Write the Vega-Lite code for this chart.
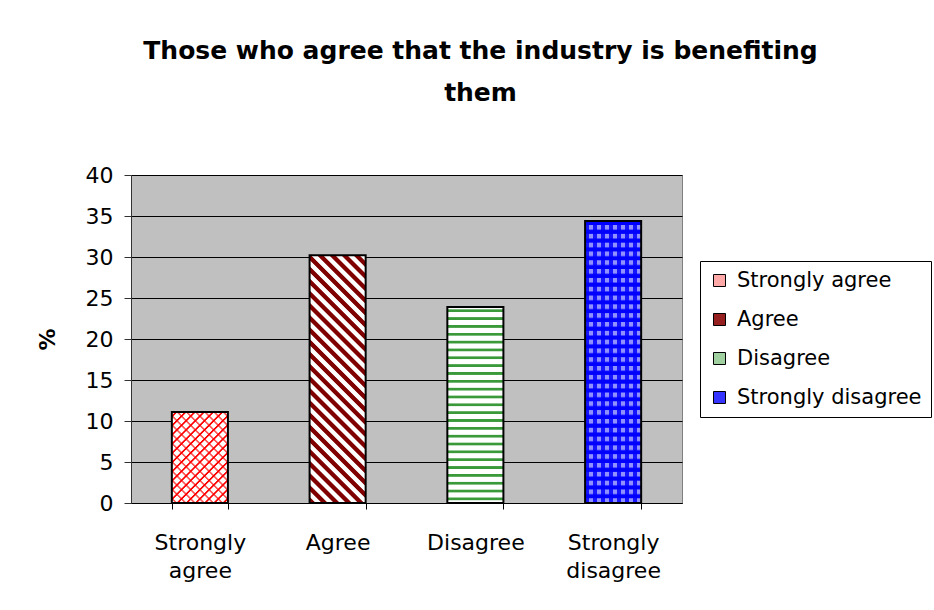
{
  "$schema": "https://vega.github.io/schema/vega-lite/v6.json",
  "width": 551,
  "height": 328,
  "autosize": "none",
  "padding": {"left": 131, "top": 175, "right": 252, "bottom": 107},
  "background": "white",
  "title": {
    "text": ["Those who agree that the industry is benefiting", "them"],
    "font": "DejaVu Sans",
    "fontSize": 25,
    "fontWeight": "bold",
    "color": "black",
    "lineHeight": 42,
    "anchor": "middle",
    "frame": "group",
    "dx": 74,
    "offset": 58
  },
  "data": {
    "values": [
      {"response": "Strongly agree", "pct": 11.1},
      {"response": "Agree", "pct": 30.2},
      {"response": "Disagree", "pct": 23.9},
      {"response": "Strongly disagree", "pct": 34.4}
    ]
  },
  "encoding": {
    "x": {
      "field": "response",
      "type": "nominal",
      "sort": null,
      "scale": {"paddingInner": 0.593, "paddingOuter": 0.2965},
      "axis": {
        "title": null,
        "labelAngle": 0,
        "labelFont": "DejaVu Sans",
        "labelFontSize": 22,
        "labelColor": "black",
        "labelPadding": 23,
        "labelLineHeight": 28,
        "labelLimit": 300,
        "labelExpr": "split(datum.label, ' ')",
        "tickBand": "extent",
        "tickSize": 6,
        "tickColor": "black",
        "domainColor": "black",
        "grid": false
      }
    },
    "y": {
      "field": "pct",
      "type": "quantitative",
      "stack": null,
      "scale": {"domain": [0, 40]},
      "axis": {
        "values": [0, 5, 10, 15, 20, 25, 30, 35, 40],
        "title": "%",
        "titleFont": "DejaVu Sans",
        "titleFontSize": 22,
        "titleFontWeight": "bold",
        "titleColor": "black",
        "titlePadding": 26,
        "labelFont": "DejaVu Sans",
        "labelFontSize": 22,
        "labelColor": "black",
        "labelPadding": 11,
        "labelOverlap": false,
        "tickSize": 7,
        "tickColor": "#333333",
        "domainColor": "#333333",
        "grid": true,
        "gridColor": "#000000",
        "gridOpacity": 1,
        "gridWidth": 1
      }
    }
  },
  "layer": [
    {
      "mark": {"type": "bar"},
      "encoding": {
        "fill": {
          "field": "response",
          "type": "nominal",
          "sort": null,
          "scale": {
            "domain": ["Strongly agree", "Agree", "Disagree", "Strongly disagree"],
            "range": ["#ffa8a8", "#962020", "#a0d0a0", "#3535ff"]
          },
          "legend": {
            "title": null,
            "orient": "none",
            "legendX": 569,
            "legendY": 86
          }
        }
      }
    },
    {
      "mark": {"type": "bar"},
      "encoding": {
        "fill": {
          "condition": [
            {"test": "datum.response === 'Strongly agree'", "value": {"gradient": "linear", "x1": 0, "y1": 0, "x2": 0.7218, "y2": 1.1715, "stops": [
              {"offset": 0.02, "color": "#ffffff"}, {"offset": 0.027, "color": "#ff0000"}, {"offset": 0.036, "color": "#ff0000"}, {"offset": 0.043, "color": "#ffffff"},
              {"offset": 0.0825, "color": "#ffffff"}, {"offset": 0.0895, "color": "#ff0000"}, {"offset": 0.0985, "color": "#ff0000"}, {"offset": 0.1055, "color": "#ffffff"},
              {"offset": 0.145, "color": "#ffffff"}, {"offset": 0.152, "color": "#ff0000"}, {"offset": 0.161, "color": "#ff0000"}, {"offset": 0.168, "color": "#ffffff"},
              {"offset": 0.2075, "color": "#ffffff"}, {"offset": 0.2145, "color": "#ff0000"}, {"offset": 0.2235, "color": "#ff0000"}, {"offset": 0.2305, "color": "#ffffff"},
              {"offset": 0.27, "color": "#ffffff"}, {"offset": 0.277, "color": "#ff0000"}, {"offset": 0.286, "color": "#ff0000"}, {"offset": 0.293, "color": "#ffffff"},
              {"offset": 0.3325, "color": "#ffffff"}, {"offset": 0.3395, "color": "#ff0000"}, {"offset": 0.3485, "color": "#ff0000"}, {"offset": 0.3555, "color": "#ffffff"},
              {"offset": 0.395, "color": "#ffffff"}, {"offset": 0.402, "color": "#ff0000"}, {"offset": 0.411, "color": "#ff0000"}, {"offset": 0.418, "color": "#ffffff"},
              {"offset": 0.4575, "color": "#ffffff"}, {"offset": 0.4645, "color": "#ff0000"}, {"offset": 0.4735, "color": "#ff0000"}, {"offset": 0.4805, "color": "#ffffff"},
              {"offset": 0.52, "color": "#ffffff"}, {"offset": 0.527, "color": "#ff0000"}, {"offset": 0.536, "color": "#ff0000"}, {"offset": 0.543, "color": "#ffffff"},
              {"offset": 0.5825, "color": "#ffffff"}, {"offset": 0.5895, "color": "#ff0000"}, {"offset": 0.5985, "color": "#ff0000"}, {"offset": 0.6055, "color": "#ffffff"},
              {"offset": 0.645, "color": "#ffffff"}, {"offset": 0.652, "color": "#ff0000"}, {"offset": 0.661, "color": "#ff0000"}, {"offset": 0.668, "color": "#ffffff"},
              {"offset": 0.7075, "color": "#ffffff"}, {"offset": 0.7145, "color": "#ff0000"}, {"offset": 0.7235, "color": "#ff0000"}, {"offset": 0.7305, "color": "#ffffff"},
              {"offset": 0.77, "color": "#ffffff"}, {"offset": 0.777, "color": "#ff0000"}, {"offset": 0.786, "color": "#ff0000"}, {"offset": 0.793, "color": "#ffffff"},
              {"offset": 0.8325, "color": "#ffffff"}, {"offset": 0.8395, "color": "#ff0000"}, {"offset": 0.8485, "color": "#ff0000"}, {"offset": 0.8555, "color": "#ffffff"},
              {"offset": 0.895, "color": "#ffffff"}, {"offset": 0.902, "color": "#ff0000"}, {"offset": 0.911, "color": "#ff0000"}, {"offset": 0.918, "color": "#ffffff"},
              {"offset": 0.9575, "color": "#ffffff"}, {"offset": 0.9645, "color": "#ff0000"}, {"offset": 0.9735, "color": "#ff0000"}, {"offset": 0.9805, "color": "#ffffff"}
            ]}},
            {"test": "datum.response === 'Agree'", "value": {"gradient": "linear", "x1": 0, "y1": 1, "x2": 0.2641, "y2": -0.1666, "stops": [
              {"offset": 0.002, "color": "#800000"}, {"offset": 0.018, "color": "#800000"}, {"offset": 0.022, "color": "#ffffff"}, {"offset": 0.038, "color": "#ffffff"},
              {"offset": 0.042, "color": "#800000"}, {"offset": 0.058, "color": "#800000"}, {"offset": 0.062, "color": "#ffffff"}, {"offset": 0.078, "color": "#ffffff"},
              {"offset": 0.082, "color": "#800000"}, {"offset": 0.098, "color": "#800000"}, {"offset": 0.102, "color": "#ffffff"}, {"offset": 0.118, "color": "#ffffff"},
              {"offset": 0.122, "color": "#800000"}, {"offset": 0.138, "color": "#800000"}, {"offset": 0.142, "color": "#ffffff"}, {"offset": 0.158, "color": "#ffffff"},
              {"offset": 0.162, "color": "#800000"}, {"offset": 0.178, "color": "#800000"}, {"offset": 0.182, "color": "#ffffff"}, {"offset": 0.198, "color": "#ffffff"},
              {"offset": 0.202, "color": "#800000"}, {"offset": 0.218, "color": "#800000"}, {"offset": 0.222, "color": "#ffffff"}, {"offset": 0.238, "color": "#ffffff"},
              {"offset": 0.242, "color": "#800000"}, {"offset": 0.258, "color": "#800000"}, {"offset": 0.262, "color": "#ffffff"}, {"offset": 0.278, "color": "#ffffff"},
              {"offset": 0.282, "color": "#800000"}, {"offset": 0.298, "color": "#800000"}, {"offset": 0.302, "color": "#ffffff"}, {"offset": 0.318, "color": "#ffffff"},
              {"offset": 0.322, "color": "#800000"}, {"offset": 0.338, "color": "#800000"}, {"offset": 0.342, "color": "#ffffff"}, {"offset": 0.358, "color": "#ffffff"},
              {"offset": 0.362, "color": "#800000"}, {"offset": 0.378, "color": "#800000"}, {"offset": 0.382, "color": "#ffffff"}, {"offset": 0.398, "color": "#ffffff"},
              {"offset": 0.402, "color": "#800000"}, {"offset": 0.418, "color": "#800000"}, {"offset": 0.422, "color": "#ffffff"}, {"offset": 0.438, "color": "#ffffff"},
              {"offset": 0.442, "color": "#800000"}, {"offset": 0.458, "color": "#800000"}, {"offset": 0.462, "color": "#ffffff"}, {"offset": 0.478, "color": "#ffffff"},
              {"offset": 0.482, "color": "#800000"}, {"offset": 0.498, "color": "#800000"}, {"offset": 0.502, "color": "#ffffff"}, {"offset": 0.518, "color": "#ffffff"},
              {"offset": 0.522, "color": "#800000"}, {"offset": 0.538, "color": "#800000"}, {"offset": 0.542, "color": "#ffffff"}, {"offset": 0.558, "color": "#ffffff"},
              {"offset": 0.562, "color": "#800000"}, {"offset": 0.578, "color": "#800000"}, {"offset": 0.582, "color": "#ffffff"}, {"offset": 0.598, "color": "#ffffff"},
              {"offset": 0.602, "color": "#800000"}, {"offset": 0.618, "color": "#800000"}, {"offset": 0.622, "color": "#ffffff"}, {"offset": 0.638, "color": "#ffffff"},
              {"offset": 0.642, "color": "#800000"}, {"offset": 0.658, "color": "#800000"}, {"offset": 0.662, "color": "#ffffff"}, {"offset": 0.678, "color": "#ffffff"},
              {"offset": 0.682, "color": "#800000"}, {"offset": 0.698, "color": "#800000"}, {"offset": 0.702, "color": "#ffffff"}, {"offset": 0.718, "color": "#ffffff"},
              {"offset": 0.722, "color": "#800000"}, {"offset": 0.738, "color": "#800000"}, {"offset": 0.742, "color": "#ffffff"}, {"offset": 0.758, "color": "#ffffff"},
              {"offset": 0.762, "color": "#800000"}, {"offset": 0.778, "color": "#800000"}, {"offset": 0.782, "color": "#ffffff"}, {"offset": 0.798, "color": "#ffffff"},
              {"offset": 0.802, "color": "#800000"}, {"offset": 0.818, "color": "#800000"}, {"offset": 0.822, "color": "#ffffff"}, {"offset": 0.838, "color": "#ffffff"},
              {"offset": 0.842, "color": "#800000"}, {"offset": 0.858, "color": "#800000"}, {"offset": 0.862, "color": "#ffffff"}, {"offset": 0.878, "color": "#ffffff"},
              {"offset": 0.882, "color": "#800000"}, {"offset": 0.898, "color": "#800000"}, {"offset": 0.902, "color": "#ffffff"}, {"offset": 0.918, "color": "#ffffff"},
              {"offset": 0.922, "color": "#800000"}, {"offset": 0.938, "color": "#800000"}, {"offset": 0.942, "color": "#ffffff"}, {"offset": 0.958, "color": "#ffffff"},
              {"offset": 0.962, "color": "#800000"}, {"offset": 0.978, "color": "#800000"}, {"offset": 0.982, "color": "#ffffff"}, {"offset": 0.998, "color": "#ffffff"}
            ]}},
            {"test": "datum.response === 'Disagree'", "value": {"gradient": "linear", "x1": 0, "y1": 0, "x2": 0, "y2": 1, "stops": [
              {"offset": 0.01, "color": "#ffffff"}, {"offset": 0.014, "color": "#3a9a3a"}, {"offset": 0.024, "color": "#3a9a3a"}, {"offset": 0.028, "color": "#ffffff"},
              {"offset": 0.05, "color": "#ffffff"}, {"offset": 0.054, "color": "#3a9a3a"}, {"offset": 0.064, "color": "#3a9a3a"}, {"offset": 0.068, "color": "#ffffff"},
              {"offset": 0.09, "color": "#ffffff"}, {"offset": 0.094, "color": "#3a9a3a"}, {"offset": 0.104, "color": "#3a9a3a"}, {"offset": 0.108, "color": "#ffffff"},
              {"offset": 0.13, "color": "#ffffff"}, {"offset": 0.134, "color": "#3a9a3a"}, {"offset": 0.144, "color": "#3a9a3a"}, {"offset": 0.148, "color": "#ffffff"},
              {"offset": 0.17, "color": "#ffffff"}, {"offset": 0.174, "color": "#3a9a3a"}, {"offset": 0.184, "color": "#3a9a3a"}, {"offset": 0.188, "color": "#ffffff"},
              {"offset": 0.21, "color": "#ffffff"}, {"offset": 0.214, "color": "#3a9a3a"}, {"offset": 0.224, "color": "#3a9a3a"}, {"offset": 0.228, "color": "#ffffff"},
              {"offset": 0.25, "color": "#ffffff"}, {"offset": 0.254, "color": "#3a9a3a"}, {"offset": 0.264, "color": "#3a9a3a"}, {"offset": 0.268, "color": "#ffffff"},
              {"offset": 0.29, "color": "#ffffff"}, {"offset": 0.294, "color": "#3a9a3a"}, {"offset": 0.304, "color": "#3a9a3a"}, {"offset": 0.308, "color": "#ffffff"},
              {"offset": 0.33, "color": "#ffffff"}, {"offset": 0.334, "color": "#3a9a3a"}, {"offset": 0.344, "color": "#3a9a3a"}, {"offset": 0.348, "color": "#ffffff"},
              {"offset": 0.37, "color": "#ffffff"}, {"offset": 0.374, "color": "#3a9a3a"}, {"offset": 0.384, "color": "#3a9a3a"}, {"offset": 0.388, "color": "#ffffff"},
              {"offset": 0.41, "color": "#ffffff"}, {"offset": 0.414, "color": "#3a9a3a"}, {"offset": 0.424, "color": "#3a9a3a"}, {"offset": 0.428, "color": "#ffffff"},
              {"offset": 0.45, "color": "#ffffff"}, {"offset": 0.454, "color": "#3a9a3a"}, {"offset": 0.464, "color": "#3a9a3a"}, {"offset": 0.468, "color": "#ffffff"},
              {"offset": 0.49, "color": "#ffffff"}, {"offset": 0.494, "color": "#3a9a3a"}, {"offset": 0.504, "color": "#3a9a3a"}, {"offset": 0.508, "color": "#ffffff"},
              {"offset": 0.53, "color": "#ffffff"}, {"offset": 0.534, "color": "#3a9a3a"}, {"offset": 0.544, "color": "#3a9a3a"}, {"offset": 0.548, "color": "#ffffff"},
              {"offset": 0.57, "color": "#ffffff"}, {"offset": 0.574, "color": "#3a9a3a"}, {"offset": 0.584, "color": "#3a9a3a"}, {"offset": 0.588, "color": "#ffffff"},
              {"offset": 0.61, "color": "#ffffff"}, {"offset": 0.614, "color": "#3a9a3a"}, {"offset": 0.624, "color": "#3a9a3a"}, {"offset": 0.628, "color": "#ffffff"},
              {"offset": 0.65, "color": "#ffffff"}, {"offset": 0.654, "color": "#3a9a3a"}, {"offset": 0.664, "color": "#3a9a3a"}, {"offset": 0.668, "color": "#ffffff"},
              {"offset": 0.69, "color": "#ffffff"}, {"offset": 0.694, "color": "#3a9a3a"}, {"offset": 0.704, "color": "#3a9a3a"}, {"offset": 0.708, "color": "#ffffff"},
              {"offset": 0.73, "color": "#ffffff"}, {"offset": 0.734, "color": "#3a9a3a"}, {"offset": 0.744, "color": "#3a9a3a"}, {"offset": 0.748, "color": "#ffffff"},
              {"offset": 0.77, "color": "#ffffff"}, {"offset": 0.774, "color": "#3a9a3a"}, {"offset": 0.784, "color": "#3a9a3a"}, {"offset": 0.788, "color": "#ffffff"},
              {"offset": 0.81, "color": "#ffffff"}, {"offset": 0.814, "color": "#3a9a3a"}, {"offset": 0.824, "color": "#3a9a3a"}, {"offset": 0.828, "color": "#ffffff"},
              {"offset": 0.85, "color": "#ffffff"}, {"offset": 0.854, "color": "#3a9a3a"}, {"offset": 0.864, "color": "#3a9a3a"}, {"offset": 0.868, "color": "#ffffff"},
              {"offset": 0.89, "color": "#ffffff"}, {"offset": 0.894, "color": "#3a9a3a"}, {"offset": 0.904, "color": "#3a9a3a"}, {"offset": 0.908, "color": "#ffffff"},
              {"offset": 0.93, "color": "#ffffff"}, {"offset": 0.934, "color": "#3a9a3a"}, {"offset": 0.944, "color": "#3a9a3a"}, {"offset": 0.948, "color": "#ffffff"},
              {"offset": 0.97, "color": "#ffffff"}, {"offset": 0.974, "color": "#3a9a3a"}, {"offset": 0.984, "color": "#3a9a3a"}, {"offset": 0.988, "color": "#ffffff"}
            ]}}
          ],
          "value": {"gradient": "linear", "x1": 0, "y1": 0, "x2": 0, "y2": 1, "stops": [
            {"offset": 0.003, "color": "#0000ff"}, {"offset": 0.013, "color": "#0000ff"}, {"offset": 0.016, "color": "#9090ff"}, {"offset": 0.028, "color": "#9090ff"},
            {"offset": 0.03425, "color": "#0000ff"}, {"offset": 0.04425, "color": "#0000ff"}, {"offset": 0.04725, "color": "#9090ff"}, {"offset": 0.05925, "color": "#9090ff"},
            {"offset": 0.0655, "color": "#0000ff"}, {"offset": 0.0755, "color": "#0000ff"}, {"offset": 0.0785, "color": "#9090ff"}, {"offset": 0.0905, "color": "#9090ff"},
            {"offset": 0.09675, "color": "#0000ff"}, {"offset": 0.10675, "color": "#0000ff"}, {"offset": 0.10975, "color": "#9090ff"}, {"offset": 0.12175, "color": "#9090ff"},
            {"offset": 0.128, "color": "#0000ff"}, {"offset": 0.138, "color": "#0000ff"}, {"offset": 0.141, "color": "#9090ff"}, {"offset": 0.153, "color": "#9090ff"},
            {"offset": 0.15925, "color": "#0000ff"}, {"offset": 0.16925, "color": "#0000ff"}, {"offset": 0.17225, "color": "#9090ff"}, {"offset": 0.18425, "color": "#9090ff"},
            {"offset": 0.1905, "color": "#0000ff"}, {"offset": 0.2005, "color": "#0000ff"}, {"offset": 0.2035, "color": "#9090ff"}, {"offset": 0.2155, "color": "#9090ff"},
            {"offset": 0.22175, "color": "#0000ff"}, {"offset": 0.23175, "color": "#0000ff"}, {"offset": 0.23475, "color": "#9090ff"}, {"offset": 0.24675, "color": "#9090ff"},
            {"offset": 0.253, "color": "#0000ff"}, {"offset": 0.263, "color": "#0000ff"}, {"offset": 0.266, "color": "#9090ff"}, {"offset": 0.278, "color": "#9090ff"},
            {"offset": 0.28425, "color": "#0000ff"}, {"offset": 0.29425, "color": "#0000ff"}, {"offset": 0.29725, "color": "#9090ff"}, {"offset": 0.30925, "color": "#9090ff"},
            {"offset": 0.3155, "color": "#0000ff"}, {"offset": 0.3255, "color": "#0000ff"}, {"offset": 0.3285, "color": "#9090ff"}, {"offset": 0.3405, "color": "#9090ff"},
            {"offset": 0.34675, "color": "#0000ff"}, {"offset": 0.35675, "color": "#0000ff"}, {"offset": 0.35975, "color": "#9090ff"}, {"offset": 0.37175, "color": "#9090ff"},
            {"offset": 0.378, "color": "#0000ff"}, {"offset": 0.388, "color": "#0000ff"}, {"offset": 0.391, "color": "#9090ff"}, {"offset": 0.403, "color": "#9090ff"},
            {"offset": 0.40925, "color": "#0000ff"}, {"offset": 0.41925, "color": "#0000ff"}, {"offset": 0.42225, "color": "#9090ff"}, {"offset": 0.43425, "color": "#9090ff"},
            {"offset": 0.4405, "color": "#0000ff"}, {"offset": 0.4505, "color": "#0000ff"}, {"offset": 0.4535, "color": "#9090ff"}, {"offset": 0.4655, "color": "#9090ff"},
            {"offset": 0.47175, "color": "#0000ff"}, {"offset": 0.48175, "color": "#0000ff"}, {"offset": 0.48475, "color": "#9090ff"}, {"offset": 0.49675, "color": "#9090ff"},
            {"offset": 0.503, "color": "#0000ff"}, {"offset": 0.513, "color": "#0000ff"}, {"offset": 0.516, "color": "#9090ff"}, {"offset": 0.528, "color": "#9090ff"},
            {"offset": 0.53425, "color": "#0000ff"}, {"offset": 0.54425, "color": "#0000ff"}, {"offset": 0.54725, "color": "#9090ff"}, {"offset": 0.55925, "color": "#9090ff"},
            {"offset": 0.5655, "color": "#0000ff"}, {"offset": 0.5755, "color": "#0000ff"}, {"offset": 0.5785, "color": "#9090ff"}, {"offset": 0.5905, "color": "#9090ff"},
            {"offset": 0.59675, "color": "#0000ff"}, {"offset": 0.60675, "color": "#0000ff"}, {"offset": 0.60975, "color": "#9090ff"}, {"offset": 0.62175, "color": "#9090ff"},
            {"offset": 0.628, "color": "#0000ff"}, {"offset": 0.638, "color": "#0000ff"}, {"offset": 0.641, "color": "#9090ff"}, {"offset": 0.653, "color": "#9090ff"},
            {"offset": 0.65925, "color": "#0000ff"}, {"offset": 0.66925, "color": "#0000ff"}, {"offset": 0.67225, "color": "#9090ff"}, {"offset": 0.68425, "color": "#9090ff"},
            {"offset": 0.6905, "color": "#0000ff"}, {"offset": 0.7005, "color": "#0000ff"}, {"offset": 0.7035, "color": "#9090ff"}, {"offset": 0.7155, "color": "#9090ff"},
            {"offset": 0.72175, "color": "#0000ff"}, {"offset": 0.73175, "color": "#0000ff"}, {"offset": 0.73475, "color": "#9090ff"}, {"offset": 0.74675, "color": "#9090ff"},
            {"offset": 0.753, "color": "#0000ff"}, {"offset": 0.763, "color": "#0000ff"}, {"offset": 0.766, "color": "#9090ff"}, {"offset": 0.778, "color": "#9090ff"},
            {"offset": 0.78425, "color": "#0000ff"}, {"offset": 0.79425, "color": "#0000ff"}, {"offset": 0.79725, "color": "#9090ff"}, {"offset": 0.80925, "color": "#9090ff"},
            {"offset": 0.8155, "color": "#0000ff"}, {"offset": 0.8255, "color": "#0000ff"}, {"offset": 0.8285, "color": "#9090ff"}, {"offset": 0.8405, "color": "#9090ff"},
            {"offset": 0.84675, "color": "#0000ff"}, {"offset": 0.85675, "color": "#0000ff"}, {"offset": 0.85975, "color": "#9090ff"}, {"offset": 0.87175, "color": "#9090ff"},
            {"offset": 0.878, "color": "#0000ff"}, {"offset": 0.888, "color": "#0000ff"}, {"offset": 0.891, "color": "#9090ff"}, {"offset": 0.903, "color": "#9090ff"},
            {"offset": 0.90925, "color": "#0000ff"}, {"offset": 0.91925, "color": "#0000ff"}, {"offset": 0.92225, "color": "#9090ff"}, {"offset": 0.93425, "color": "#9090ff"},
            {"offset": 0.9405, "color": "#0000ff"}, {"offset": 0.9505, "color": "#0000ff"}, {"offset": 0.9535, "color": "#9090ff"}, {"offset": 0.9655, "color": "#9090ff"},
            {"offset": 0.97175, "color": "#0000ff"}, {"offset": 0.98175, "color": "#0000ff"}, {"offset": 0.98475, "color": "#9090ff"}, {"offset": 0.99675, "color": "#9090ff"}
          ]}
        }
      }
    },
    {
      "mark": {"type": "bar", "stroke": "black", "strokeWidth": 2},
      "encoding": {
        "fill": {
          "condition": [
            {"test": "datum.response === 'Strongly agree'", "value": {"gradient": "linear", "x1": 0, "y1": 1, "x2": 0.7218, "y2": -0.1715, "stops": [
              {"offset": 0.02, "color": "rgba(255,0,0,0)"}, {"offset": 0.027, "color": "rgba(255,0,0,0.65)"}, {"offset": 0.036, "color": "rgba(255,0,0,0.65)"}, {"offset": 0.043, "color": "rgba(255,0,0,0)"},
              {"offset": 0.0825, "color": "rgba(255,0,0,0)"}, {"offset": 0.0895, "color": "rgba(255,0,0,0.65)"}, {"offset": 0.0985, "color": "rgba(255,0,0,0.65)"}, {"offset": 0.1055, "color": "rgba(255,0,0,0)"},
              {"offset": 0.145, "color": "rgba(255,0,0,0)"}, {"offset": 0.152, "color": "rgba(255,0,0,0.65)"}, {"offset": 0.161, "color": "rgba(255,0,0,0.65)"}, {"offset": 0.168, "color": "rgba(255,0,0,0)"},
              {"offset": 0.2075, "color": "rgba(255,0,0,0)"}, {"offset": 0.2145, "color": "rgba(255,0,0,0.65)"}, {"offset": 0.2235, "color": "rgba(255,0,0,0.65)"}, {"offset": 0.2305, "color": "rgba(255,0,0,0)"},
              {"offset": 0.27, "color": "rgba(255,0,0,0)"}, {"offset": 0.277, "color": "rgba(255,0,0,0.65)"}, {"offset": 0.286, "color": "rgba(255,0,0,0.65)"}, {"offset": 0.293, "color": "rgba(255,0,0,0)"},
              {"offset": 0.3325, "color": "rgba(255,0,0,0)"}, {"offset": 0.3395, "color": "rgba(255,0,0,0.65)"}, {"offset": 0.3485, "color": "rgba(255,0,0,0.65)"}, {"offset": 0.3555, "color": "rgba(255,0,0,0)"},
              {"offset": 0.395, "color": "rgba(255,0,0,0)"}, {"offset": 0.402, "color": "rgba(255,0,0,0.65)"}, {"offset": 0.411, "color": "rgba(255,0,0,0.65)"}, {"offset": 0.418, "color": "rgba(255,0,0,0)"},
              {"offset": 0.4575, "color": "rgba(255,0,0,0)"}, {"offset": 0.4645, "color": "rgba(255,0,0,0.65)"}, {"offset": 0.4735, "color": "rgba(255,0,0,0.65)"}, {"offset": 0.4805, "color": "rgba(255,0,0,0)"},
              {"offset": 0.52, "color": "rgba(255,0,0,0)"}, {"offset": 0.527, "color": "rgba(255,0,0,0.65)"}, {"offset": 0.536, "color": "rgba(255,0,0,0.65)"}, {"offset": 0.543, "color": "rgba(255,0,0,0)"},
              {"offset": 0.5825, "color": "rgba(255,0,0,0)"}, {"offset": 0.5895, "color": "rgba(255,0,0,0.65)"}, {"offset": 0.5985, "color": "rgba(255,0,0,0.65)"}, {"offset": 0.6055, "color": "rgba(255,0,0,0)"},
              {"offset": 0.645, "color": "rgba(255,0,0,0)"}, {"offset": 0.652, "color": "rgba(255,0,0,0.65)"}, {"offset": 0.661, "color": "rgba(255,0,0,0.65)"}, {"offset": 0.668, "color": "rgba(255,0,0,0)"},
              {"offset": 0.7075, "color": "rgba(255,0,0,0)"}, {"offset": 0.7145, "color": "rgba(255,0,0,0.65)"}, {"offset": 0.7235, "color": "rgba(255,0,0,0.65)"}, {"offset": 0.7305, "color": "rgba(255,0,0,0)"},
              {"offset": 0.77, "color": "rgba(255,0,0,0)"}, {"offset": 0.777, "color": "rgba(255,0,0,0.65)"}, {"offset": 0.786, "color": "rgba(255,0,0,0.65)"}, {"offset": 0.793, "color": "rgba(255,0,0,0)"},
              {"offset": 0.8325, "color": "rgba(255,0,0,0)"}, {"offset": 0.8395, "color": "rgba(255,0,0,0.65)"}, {"offset": 0.8485, "color": "rgba(255,0,0,0.65)"}, {"offset": 0.8555, "color": "rgba(255,0,0,0)"},
              {"offset": 0.895, "color": "rgba(255,0,0,0)"}, {"offset": 0.902, "color": "rgba(255,0,0,0.65)"}, {"offset": 0.911, "color": "rgba(255,0,0,0.65)"}, {"offset": 0.918, "color": "rgba(255,0,0,0)"},
              {"offset": 0.9575, "color": "rgba(255,0,0,0)"}, {"offset": 0.9645, "color": "rgba(255,0,0,0.65)"}, {"offset": 0.9735, "color": "rgba(255,0,0,0.65)"}, {"offset": 0.9805, "color": "rgba(255,0,0,0)"}
            ]}},
            {"test": "datum.response === 'Strongly disagree'", "value": {"gradient": "linear", "x1": 0, "y1": 0, "x2": 1, "y2": 0, "stops": [
              {"offset": 0.005, "color": "rgba(0,0,255,0.85)"}, {"offset": 0.065, "color": "rgba(0,0,255,0.85)"}, {"offset": 0.075, "color": "rgba(0,0,255,0)"}, {"offset": 0.135, "color": "rgba(0,0,255,0)"},
              {"offset": 0.1479, "color": "rgba(0,0,255,0.85)"}, {"offset": 0.2079, "color": "rgba(0,0,255,0.85)"}, {"offset": 0.2179, "color": "rgba(0,0,255,0)"}, {"offset": 0.2779, "color": "rgba(0,0,255,0)"},
              {"offset": 0.2907, "color": "rgba(0,0,255,0.85)"}, {"offset": 0.3507, "color": "rgba(0,0,255,0.85)"}, {"offset": 0.3607, "color": "rgba(0,0,255,0)"}, {"offset": 0.4207, "color": "rgba(0,0,255,0)"},
              {"offset": 0.4336, "color": "rgba(0,0,255,0.85)"}, {"offset": 0.4936, "color": "rgba(0,0,255,0.85)"}, {"offset": 0.5036, "color": "rgba(0,0,255,0)"}, {"offset": 0.5636, "color": "rgba(0,0,255,0)"},
              {"offset": 0.5764, "color": "rgba(0,0,255,0.85)"}, {"offset": 0.6364, "color": "rgba(0,0,255,0.85)"}, {"offset": 0.6464, "color": "rgba(0,0,255,0)"}, {"offset": 0.7064, "color": "rgba(0,0,255,0)"},
              {"offset": 0.7193, "color": "rgba(0,0,255,0.85)"}, {"offset": 0.7793, "color": "rgba(0,0,255,0.85)"}, {"offset": 0.7893, "color": "rgba(0,0,255,0)"}, {"offset": 0.8493, "color": "rgba(0,0,255,0)"},
              {"offset": 0.8621, "color": "rgba(0,0,255,0.85)"}, {"offset": 0.9221, "color": "rgba(0,0,255,0.85)"}, {"offset": 0.9321, "color": "rgba(0,0,255,0)"}, {"offset": 0.9921, "color": "rgba(0,0,255,0)"}
            ]}}
          ],
          "value": "transparent"
        }
      }
    }
  ],
  "config": {
    "view": {"fill": "#c0c0c0", "stroke": "#808080", "strokeWidth": 1},
    "legend": {
      "strokeColor": "black",
      "strokeWidth": 1,
      "fillColor": "white",
      "padding": 9,
      "symbolType": "square",
      "symbolSize": 144,
      "symbolStrokeColor": "black",
      "symbolStrokeWidth": 1,
      "labelFont": "DejaVu Sans",
      "labelFontSize": 21,
      "labelColor": "black",
      "labelOffset": 7,
      "labelLimit": 400,
      "rowPadding": 17
    }
  }
}
